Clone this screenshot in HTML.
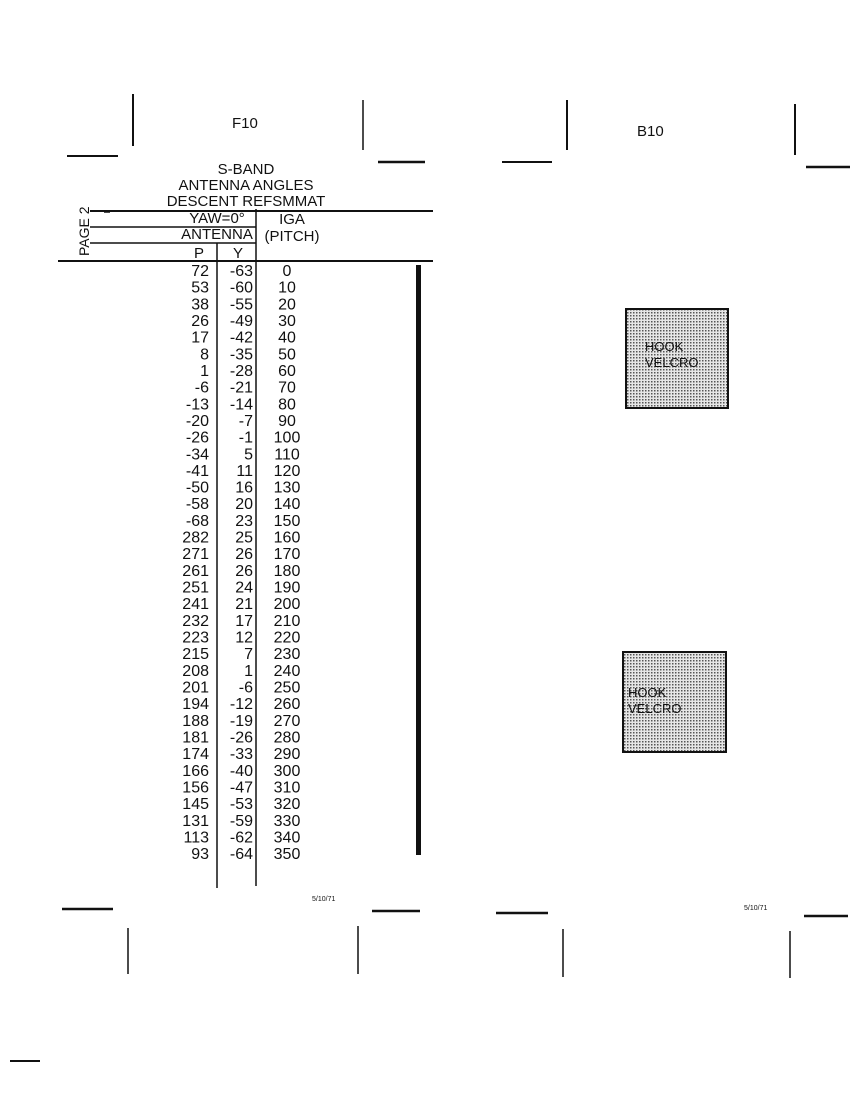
<!DOCTYPE html>
<html><head><meta charset="utf-8"><style>
html,body{margin:0;padding:0;background:#fff;}
svg{display:block;}
text{font-family:"Liberation Sans",sans-serif;font-size:15px;fill:#111;}
#rows text{font-size:16px;font-stretch:condensed;}
</style></head><body>
<svg width="850" height="1099" viewBox="0 0 850 1099" xmlns="http://www.w3.org/2000/svg">
<g stroke="#111" fill="none">
<line x1="133" y1="94" x2="133" y2="146" stroke-width="2"/>
<line x1="67" y1="156" x2="118" y2="156" stroke-width="2"/>
<line x1="363" y1="100" x2="363" y2="150" stroke-width="1.5"/>
<line x1="378" y1="162" x2="425" y2="162" stroke-width="2.5"/>
<line x1="567" y1="100" x2="567" y2="150" stroke-width="2"/>
<line x1="502" y1="162" x2="552" y2="162" stroke-width="2"/>
<line x1="795" y1="104" x2="795" y2="155" stroke-width="2"/>
<line x1="806" y1="167" x2="850" y2="167" stroke-width="2.5"/>
<line x1="62" y1="909" x2="113" y2="909" stroke-width="2.5"/>
<line x1="128" y1="928" x2="128" y2="974" stroke-width="1.5"/>
<line x1="372" y1="911" x2="420" y2="911" stroke-width="2.5"/>
<line x1="358" y1="926" x2="358" y2="974" stroke-width="1.5"/>
<line x1="496" y1="913" x2="548" y2="913" stroke-width="2.5"/>
<line x1="563" y1="929" x2="563" y2="977" stroke-width="1.5"/>
<line x1="804" y1="916" x2="848" y2="916" stroke-width="2.5"/>
<line x1="790" y1="931" x2="790" y2="978" stroke-width="1.5"/>
<line x1="10" y1="1061" x2="40" y2="1061" stroke-width="2"/>
<line x1="90" y1="211" x2="433" y2="211" stroke-width="2"/>
<line x1="90" y1="227" x2="256" y2="227" stroke-width="1.5"/>
<line x1="90" y1="243" x2="256" y2="243" stroke-width="1.5"/>
<line x1="58" y1="261" x2="433" y2="261" stroke-width="2"/>
<line x1="256" y1="209" x2="256" y2="886" stroke-width="1.5"/>
<line x1="217" y1="243" x2="217" y2="888" stroke-width="1.5"/>
<line x1="104" y1="212" x2="110" y2="212" stroke-width="1.5"/>
</g>
<rect x="416" y="265" width="5" height="590" fill="#111"/>
<defs><pattern id="dots" width="3" height="3" patternUnits="userSpaceOnUse"><rect width="3" height="3" fill="#e6e6e6"/><rect width="1.5" height="1.5" fill="#555"/></pattern></defs>
<rect x="626" y="309" width="102" height="99" fill="url(#dots)" stroke="#111" stroke-width="2"/>
<rect x="623" y="652" width="103" height="100" fill="url(#dots)" stroke="#111" stroke-width="2"/>
<text x="645" y="351" style="font-size:13px">HOOK</text>
<text x="645" y="367" style="font-size:13px">VELCRO</text>
<text x="628" y="697" style="font-size:13px">HOOK</text>
<text x="628" y="713" style="font-size:13px">VELCRO</text>
<text x="232" y="128">F10</text>
<text x="637" y="136">B10</text>
<text x="312" y="901" style="font-size:7px">5/10/71</text>
<text x="744" y="910" style="font-size:7px">5/10/71</text>
<text x="246" y="174" text-anchor="middle">S-BAND</text>
<text x="246" y="190" text-anchor="middle">ANTENNA ANGLES</text>
<text x="246" y="206" text-anchor="middle">DESCENT REFSMMAT</text>
<text x="217" y="223" text-anchor="middle">YAW=0°</text>
<text x="217" y="239" text-anchor="middle">ANTENNA</text>
<text x="292" y="224" text-anchor="middle">IGA</text>
<text x="292" y="241" text-anchor="middle">(PITCH)</text>
<text x="199" y="258" text-anchor="middle">P</text>
<text x="238" y="258" text-anchor="middle">Y</text>
<text transform="translate(89,256) rotate(-90)" style="font-size:14px">PAGE 2</text>
<g id="rows"></g>
</svg>
<script>
var P=[72,53,38,26,17,8,1,-6,-13,-20,-26,-34,-41,-50,-58,-68,282,271,261,251,241,232,223,215,208,201,194,188,181,174,166,156,145,131,113,93];
var Y=[-63,-60,-55,-49,-42,-35,-28,-21,-14,-7,-1,5,11,16,20,23,25,26,26,24,21,17,12,7,1,-6,-12,-19,-26,-33,-40,-47,-53,-59,-62,-64];
var g=document.getElementById('rows'),ns="http://www.w3.org/2000/svg";
function t(x,y,s,a){var e=document.createElementNS(ns,'text');e.setAttribute('x',x);e.setAttribute('y',y);e.setAttribute('text-anchor',a);e.textContent=s;g.appendChild(e);}
for(var i=0;i<36;i++){var y=(276+i*16.66).toFixed(1);t(209,y,String(P[i]),'end');t(253,y,String(Y[i]),'end');t(287,y,String(i*10),'middle');}
</script>
</body></html>
